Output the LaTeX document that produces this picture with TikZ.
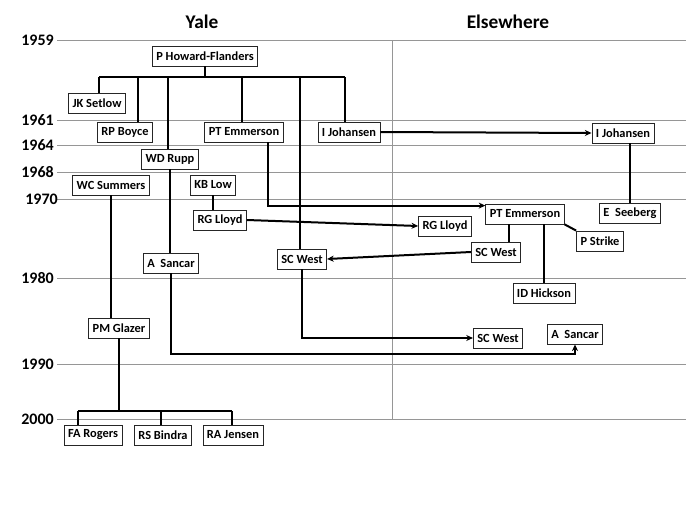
\documentclass[tikz,border=0pt]{standalone}
\usepackage{fontspec}
\setmainfont{Carlito}
\usetikzlibrary{positioning,calc,arrows.meta}
\definecolor{GridGray}{RGB}{150,150,150}
\tikzset{
  person/.style={draw=black!85,line width=0.6pt,fill=white,font=\bfseries\fontsize{9.3}{11}\selectfont,
    minimum height=15pt,inner xsep=3pt,inner ysep=0pt},
  year/.style={font=\bfseries\fontsize{12}{14}\selectfont,anchor=east,inner sep=0pt},
  place/.style={font=\bfseries\fontsize{14.5}{17}\selectfont},
  gridline/.style={draw=GridGray,line width=0.75pt},
  tree/.style={draw=black,line width=1.5pt},
  link/.style={tree,-{Stealth[length=5pt,width=4.5pt]}},
}
\begin{document}
\begin{tikzpicture}[x=0.75pt,y=-0.75pt]
  \useasboundingbox (0,0) rectangle (686,514);
  \foreach \yr/\x/\y in {1959/54/40,1961/54/120,1964/54/145,1968/54/172,1970/58/199,1980/54/278,1990/54/364,2000/54/419}{
    \draw[gridline] (57,\y) -- (686,\y);
    \node[year] (y\yr) at (\x,\y) {\yr};
  }
  \draw[gridline] (392,40) -- (392,420);
  \node[place] (yale) at (202,22) {Yale};
  \node[place] (away) at (508,22) {Elsewhere};

  \node[person] (phf) at (205,56) {P Howard-Flanders};
  \node[person] (jks) at (97,103) {JK Setlow};
  \node[person] (rpb) at (125,132) {RP Boyce};
  \node[person] (wdr) at (170,159) {WD Rupp};
  \node[person] (pty) at (244,132) {PT Emmerson};
  \node[person] (ijy) at (349,132) {I Johansen};
  \node[person] (wcs) at (111,185) {WC Summers};
  \node[person] (kbl) at (213,185) {KB Low};
  \node[person] (rgy) at (220,220) {RG Lloyd};
  \node[person] (asy) at (171,263) {A~~Sancar};
  \node[person] (scy) at (302,259) {SC West};
  \node[person] (pmg) at (119,328) {PM Glazer};
  \node[person] (far) at (93,435) {FA Rogers};
  \node[person] (rsb) at (163,435) {RS Bindra};
  \node[person] (raj) at (233,435) {RA Jensen};
  \node[person] (ije) at (623,133) {I Johansen};
  \node[person] (esb) at (630,213) {E~~Seeberg};
  \node[person] (pte) at (525,214) {PT Emmerson};
  \node[person] (rge) at (445,226) {RG Lloyd};
  \node[person] (sce1) at (496,252) {SC West};
  \node[person] (psk) at (600,241) {P Strike};
  \node[person] (idh) at (544,293) {ID Hickson};
  \node[person] (sce2) at (498,338) {SC West};
  \node[person] (ase) at (575,334) {A~~Sancar};

  \coordinate (busL) at (99,77);
  \coordinate (busR) at (345,77);
  \draw[tree] (busL) -- (busR);
  \draw[tree] (phf.south) -- (phf.south |- busL);
  \foreach \n/\x in {jks/99,rpb/138,wdr/168,pty/242,ijy/345,scy/300}
    \draw[tree] (\x,77) -- (\x,77 |- \n.north);
  \draw[link] (scy.south) |- (sce2.west);
  \draw[link] ($(pty.south)+(24,0)$) |- ($(pte.north west)+(0,2)$);
  \draw[link] (ijy.east) -- (ije.west);
  \draw[tree] (esb.north) -- (esb.north |- ije.south);
  \draw[tree] (kbl.south) -- (kbl.south |- rgy.north);
  \draw[link] (rgy.east) -- (rge.west);
  \draw[link] (sce1.west) -- (scy.east);
  \coordinate (wst) at ($(sce1.north)+(13,0)$);
  \draw[tree] (wst) -- (wst |- pte.south);
  \draw[tree] (idh.north) -- (idh.north |- pte.south);
  \draw[tree] (pte.south east) -- (psk.north west);
  \draw[tree] (wdr.south) -- (wdr.south |- asy.north);
  \draw[link] (asy.south) -- ++(0,81) -| (ase.south);
  \draw[tree] (wcs.south) -- (wcs.south |- pmg.north);
  \coordinate (kidL) at (78,411);
  \coordinate (kidR) at (232,411);
  \draw[tree] (kidL) -- (kidR);
  \draw[tree] (pmg.south) -- (pmg.south |- kidL);
  \foreach \n/\x in {far/78,rsb/161,raj/232}
    \draw[tree] (\x,411) -- (\x,411 |- \n.north);
\end{tikzpicture}
\end{document}
